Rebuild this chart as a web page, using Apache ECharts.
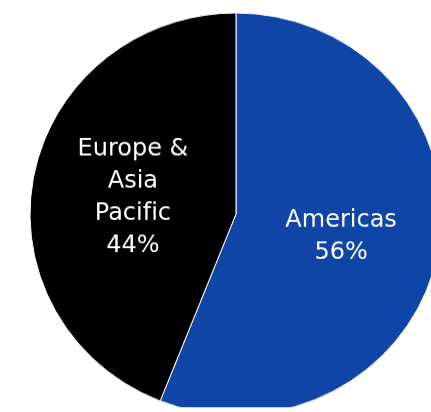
<!DOCTYPE html>
<html>
<head>
<meta charset="utf-8">
<script src="https://cdn.jsdelivr.net/npm/echarts@6/dist/echarts.min.js"></script>
<style>
  html, body { margin: 0; padding: 0; background: #fff; overflow: hidden; }
  /* the pie is drawn slightly flattened vertically */
  #chart { width: 431px; height: 412px; transform: scaleY(0.976); transform-origin: 50% 214px; }
</style>
</head>
<body>
<div id="chart"></div>
<script>
// Revenue split by region
const regions = ['Americas', 'Europe &\nAsia\nPacific'];
const shares = [56, 44];
const colors = ['#1045a8', '#000000'];

const labelFont = {
  color: '#ffffff',
  fontFamily: 'DejaVu Sans',
  fontSize: 24,
  lineHeight: 33,
  textBorderWidth: 0
};

// draw "f" and "i" as separate runs so the font's fi ligature is not used
const noLigature = s => s.replace(/fi/g, 'f{s|i}');

const chart = echarts.init(document.getElementById('chart'), null, { renderer: 'canvas' });
chart.setOption({
  animation: false,
  series: [{
    type: 'pie',
    center: [236, 214],
    radius: [0, 206],
    startAngle: 90,
    clockwise: true,
    data: regions.map((name, i) => ({ name, value: shares[i], itemStyle: { color: colors[i] } })),
    itemStyle: { borderColor: '#ffffff', borderWidth: 1 },
    label: Object.assign({
      show: true,
      position: 'inside',
      offset: [1, 3],
      formatter: p => noLigature(p.name) + '\n' + p.value + '%',
      rich: { s: Object.assign({}, labelFont) }
    }, labelFont),
    labelLine: { show: false },
    emphasis: { disabled: true }
  }]
});
</script>
</body>
</html>
